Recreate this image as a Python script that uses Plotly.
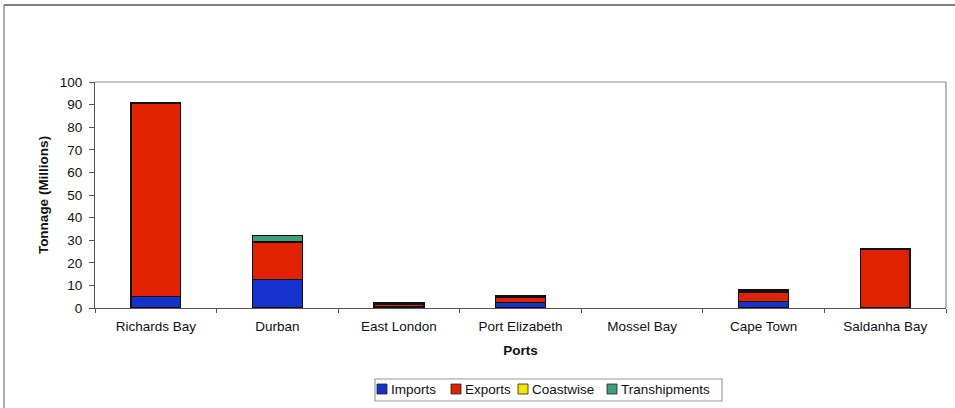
import plotly.graph_objects as go

ports = ["Richards Bay", "Durban", "East London", "Port Elizabeth",
         "Mossel Bay", "Cape Town", "Saldanha Bay"]
imports = [5.0, 12.6, 0.6, 2.5, None, 3.0, 0.3]
exports = [85.6, 16.3, 1.0, 2.3, None, 4.0, 25.8]
coastwise = [0.2, 0.6, 0.5, 0.4, None, 0.5, None]
transhipments = [None, 2.5, 0.3, 0.1, None, 0.6, None]

series_names = ["Imports", "Exports", "Coastwise", "Transhipments"]
series_values = [imports, exports, coastwise, transhipments]
series_colors = ["#1533cc", "#e02200", "#f2e600", "#3f9e74"]

W, H = 955, 408
M_L, M_R, M_T, M_B = 95, 9, 82, 100
PW, PH = W - M_L - M_R, H - M_T - M_B


def px_x(p):
    """Pixel column -> paper x."""
    return (p - M_L) / PW


def px_y(p):
    """Pixel row -> paper y."""
    return (H - M_B - p) / PH


font_family = "Liberation Sans, Arial, sans-serif"
FS = 13.5

fig = go.Figure()
for name, vals, col in zip(series_names, series_values, series_colors):
    fig.add_trace(go.Bar(
        x=ports, y=vals, name=name, width=0.41, showlegend=False,
        marker=dict(color=col, line=dict(color="#111111", width=1.3)),
    ))

shapes = [
    # top and right edges of the plot frame
    dict(type="line", xref="paper", yref="paper", x0=0, x1=1, y0=1, y1=1,
         line=dict(color="#8a8a8a", width=1.2)),
    dict(type="line", xref="paper", yref="paper", x0=1, x1=1, y0=0, y1=1,
         line=dict(color="#8a8a8a", width=1.2)),
    # outer page frame
    dict(type="line", xref="paper", yref="paper", x0=px_x(4), x1=px_x(960),
         y0=px_y(5), y1=px_y(5), line=dict(color="#555555", width=1.5)),
    dict(type="line", xref="paper", yref="paper", x0=px_x(4), x1=px_x(4),
         y0=px_y(415), y1=px_y(5), line=dict(color="#777777", width=1.2)),
    # legend box
    dict(type="rect", xref="paper", yref="paper", x0=px_x(375), x1=px_x(722),
         y0=px_y(401), y1=px_y(379), line=dict(color="#9a9a9a", width=1.2),
         fillcolor="white"),
]
annotations = []

# legend entries: colour swatch followed by its label
swatch_left = [377, 451, 518, 607]
for name, col, sx in zip(series_names, series_colors, swatch_left):
    shapes.append(dict(
        type="rect", xref="paper", yref="paper",
        x0=px_x(sx), x1=px_x(sx + 10), y0=px_y(394), y1=px_y(384),
        line=dict(color="#222222", width=0.8), fillcolor=col,
    ))
    annotations.append(dict(
        xref="paper", yref="paper", x=px_x(sx + 12), y=px_y(389),
        xanchor="left", yanchor="middle", text=name, showarrow=False,
        font=dict(family=font_family, size=FS, color="#111111"),
    ))

fig.update_layout(
    barmode="stack",
    width=W, height=H,
    margin=dict(l=M_L, r=M_R, t=M_T, b=M_B, autoexpand=False),
    paper_bgcolor="white", plot_bgcolor="white",
    font=dict(family=font_family, size=FS, color="#111111"),
    showlegend=False,
    xaxis=dict(
        showline=True, linecolor="#555555", linewidth=1.2,
        ticks="outside", ticklen=4, tickcolor="#555555", tickson="boundaries",
        ticklabelstandoff=6, showgrid=False,
        title=dict(text="<b>Ports</b>", standoff=12, font=dict(size=FS)),
    ),
    yaxis=dict(
        range=[0, 100], dtick=10,
        showline=True, linecolor="#555555", linewidth=1.2,
        ticks="outside", ticklen=5, tickcolor="#555555",
        ticklabelstandoff=4, showgrid=False, zeroline=False,
        title=dict(text="<b>Tonnage (Millions)</b>", standoff=7, font=dict(size=FS)),
    ),
    shapes=shapes,
    annotations=annotations,
)

fig.write_html("out.html")
